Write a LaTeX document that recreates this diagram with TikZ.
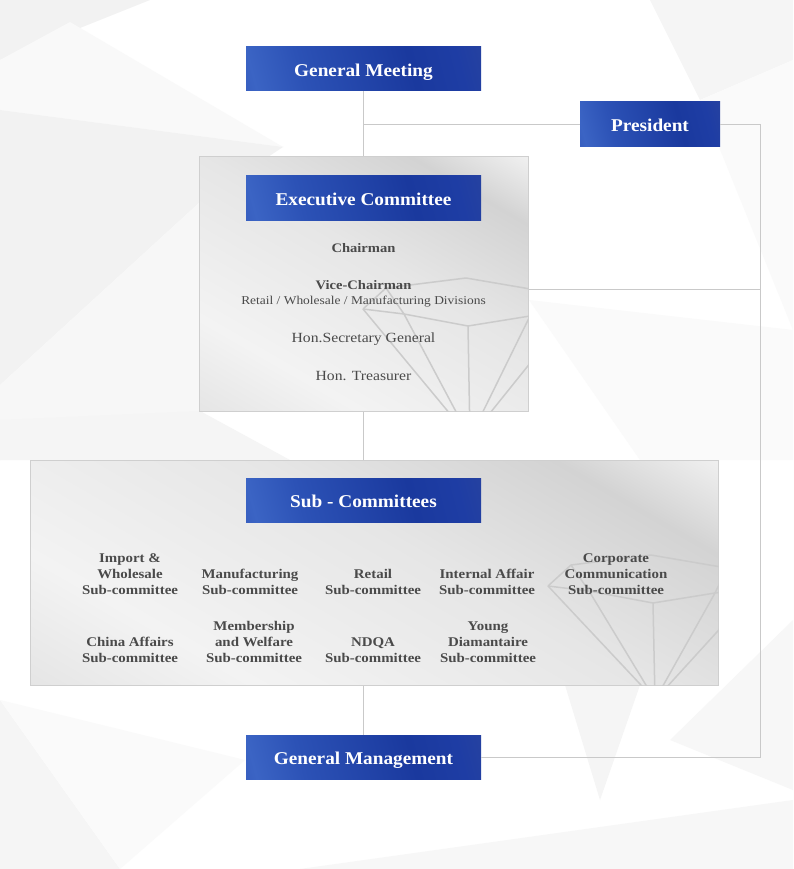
\documentclass[tikz,border=0pt]{standalone}
\usepackage{fontspec}
\setmainfont{Liberation Serif}
\newfontfamily\bodyf[FakeStretch=1.12]{Liberation Serif}
\newfontfamily\titlef[FakeStretch=1.07]{Liberation Serif}
\definecolor{txt}{HTML}{4A4A4A}
\definecolor{connc}{HTML}{C9C9C9}
\definecolor{panelline}{HTML}{CFCFCF}
\definecolor{gemc}{HTML}{CBCBCB}
\definecolor{bA}{HTML}{1E3DA4}
\definecolor{bB}{HTML}{3B64C4}
\definecolor{bC}{HTML}{2C52B6}
\definecolor{bD}{HTML}{1A399E}
\definecolor{bE}{HTML}{3A4E96}
\definecolor{gA}{HTML}{D6D6D6}
\definecolor{gB}{HTML}{F3F3F3}
\definecolor{gC}{HTML}{E6E6E6}
\definecolor{gD}{HTML}{D3D3D3}
\definecolor{gE}{HTML}{EFEFEF}
\definecolor{gF}{HTML}{DCDCDC}
\pgfdeclarehorizontalshading{bluesheen}{100bp}{color(0bp)=(bA); color(22bp)=(bB); color(34bp)=(bC); color(62bp)=(bD); color(74bp)=(bA); color(100bp)=(bE)}
\pgfdeclarehorizontalshading{graysheen}{100bp}{color(0bp)=(gA); color(30bp)=(gB); color(55bp)=(gC); color(74bp)=(gD); color(84bp)=(gE); color(100bp)=(gF)}
\begin{document}
\begin{tikzpicture}[x=1pt,y=-1pt,
  bluebox/.style={shading=bluesheen, shading angle=15, minimum width=235pt, minimum height=44pt, inner sep=0pt, text height=15pt, text depth=0pt, text=white, font=\titlef\bfseries\fontsize{18}{20}\selectfont},
  panel/.style={shading=graysheen, shading angle=60, draw=panelline, line width=1pt, inner sep=0pt},
  conn/.style={draw=connc, line width=1pt},
  lbl/.style={text=txt, align=center, inner sep=0pt, font=\bodyf\bfseries\fontsize{13.3}{16}\selectfont},
  role/.style={text=txt, align=center, inner sep=0pt, font=\bodyf\fontsize{14}{16}\selectfont},
  rolebold/.style={text=txt, align=center, inner sep=0pt, font=\bodyf\bfseries\fontsize{13}{16}\selectfont},
  gemline/.style={draw=gemc, line width=1.5pt, line join=round}]
\useasboundingbox (0,0) rectangle (793,869);
% background facets
\fill[white] (0,0) rectangle (793,869);
\fill[black!5] (0,0) -- (150,0) -- (0,60) -- cycle;
\fill[black!2.5] (0,60) -- (70,22) -- (283,147) -- (0,110) -- cycle;
\fill[black!5] (0,110) -- (283,147) -- (200,202) -- (0,385) -- cycle;
\fill[black!3] (0,385) -- (200,202) -- (200,411) -- (0,460) -- cycle;
\fill[black!4] (0,420) -- (200,411) -- (290,460) -- (0,460) -- cycle;
\fill[black!4] (650,0) -- (793,0) -- (793,60) -- (700,100) -- cycle;
\fill[black!2] (793,60) -- (700,100) -- (793,330) -- cycle;
\fill[black!2] (529,300) -- (793,330) -- (793,460) -- (640,460) -- cycle;
\fill[black!4] (0,700) -- (120,869) -- (0,869) -- cycle;
\fill[black!2] (0,700) -- (245,760) -- (120,869) -- cycle;
\fill[black!4] (565,685) -- (640,685) -- (600,800) -- cycle;
\fill[black!3] (670,740) -- (793,620) -- (793,790) -- cycle;
\fill[black!3] (300,869) -- (793,800) -- (793,869) -- cycle;
% panels
\node[panel, minimum width=329pt, minimum height=254pt] (execpanel) at (363.5,284) {};
\node[panel, minimum width=688pt, minimum height=225pt] (subpanel) at (374,572.5) {};
% gems
\begin{scope}
  \clip (execpanel.south west) rectangle (execpanel.north east);
  \begin{scope}[shift={(466,278)}]
    \draw[gemline] (-103,31) -- (-80,10) -- (0,0) -- (76,13) -- (106,33);
    \draw[gemline] (-103,31) -- (-62,36) -- (2,48) -- (64,38) -- (106,33);
    \draw[gemline] (-80,10) -- (-62,36) (76,13) -- (64,38);
    \draw[gemline] (-103,31) -- (4,160) -- (-62,36) (2,48) -- (4,160) -- (64,38) (106,33) -- (4,160);
  \end{scope}
\end{scope}
\begin{scope}
  \clip (subpanel.south west) rectangle (subpanel.north east);
  \begin{scope}[shift={(651,555)}]
    \draw[gemline] (-103,31) -- (-80,10) -- (0,0) -- (76,13) -- (106,33);
    \draw[gemline] (-103,31) -- (-62,36) -- (2,48) -- (64,38) -- (106,33);
    \draw[gemline] (-80,10) -- (-62,36) (76,13) -- (64,38);
    \draw[gemline] (-103,31) -- (4,145) -- (-62,36) (2,48) -- (4,145) -- (64,38) (106,33) -- (4,145);
  \end{scope}
\end{scope}
% blue boxes
\node[bluebox] (gm) at (363.5,69) {General Meeting};
\node[bluebox, minimum width=140pt, minimum height=45pt] (pres) at (650,124.5) {President};
\node[bluebox] (exec) at (363.5,198) {Executive Committee};
\node[bluebox] (subc) at (363.5,500) {Sub - Committees};
\node[bluebox] (gmgmt) at (363.5,757) {General Management};
% connectors
\coordinate (rail) at (760,124.5);
\draw[conn] (gm.south) -- (execpanel.north);
\draw[conn] (gm.south |- pres.west) -- (pres.west);
\draw[conn] (pres.east) -- (rail) |- (gmgmt.east);
\draw[conn] ([yshift=-5pt]execpanel.east) -- ([yshift=-5pt]execpanel.east -| rail);
\draw[conn] (execpanel.south) -- (subpanel.north -| execpanel.south);
\draw[conn] (subpanel.south -| gmgmt.north) -- (gmgmt.north);
% executive roles
\node[rolebold] (chair) at (363.5,248) {Chairman};
\node[rolebold] (vice) at (363.5,285) {Vice-Chairman};
\node[role, font=\bodyf\fontsize{12}{14}\selectfont] (div) at (363.5,302) {Retail / Wholesale / Manufacturing Divisions};
\node[role] (sec) at (363.5,339) {Hon.Secretary General};
\node[role] (treas) at (363.5,376) {Hon. Treasurer};
% sub-committees
\node[lbl] (imp) at (130,574) {Import \&\\Wholesale\\Sub-committee};
\node[lbl] (manu) at (250,582) {Manufacturing\\Sub-committee};
\node[lbl] (ret) at (373,582) {Retail\\Sub-committee};
\node[lbl] (intl) at (487,582) {Internal Affair\\Sub-committee};
\node[lbl] (corp) at (616,574) {Corporate\\Communication\\Sub-committee};
\node[lbl] (china) at (130,650) {China Affairs\\Sub-committee};
\node[lbl] (memb) at (254,642) {Membership\\and Welfare\\Sub-committee};
\node[lbl] (ndqa) at (373,650) {NDQA\\Sub-committee};
\node[lbl] (young) at (488,642) {Young\\Diamantaire\\Sub-committee};
\end{tikzpicture}
\end{document}
